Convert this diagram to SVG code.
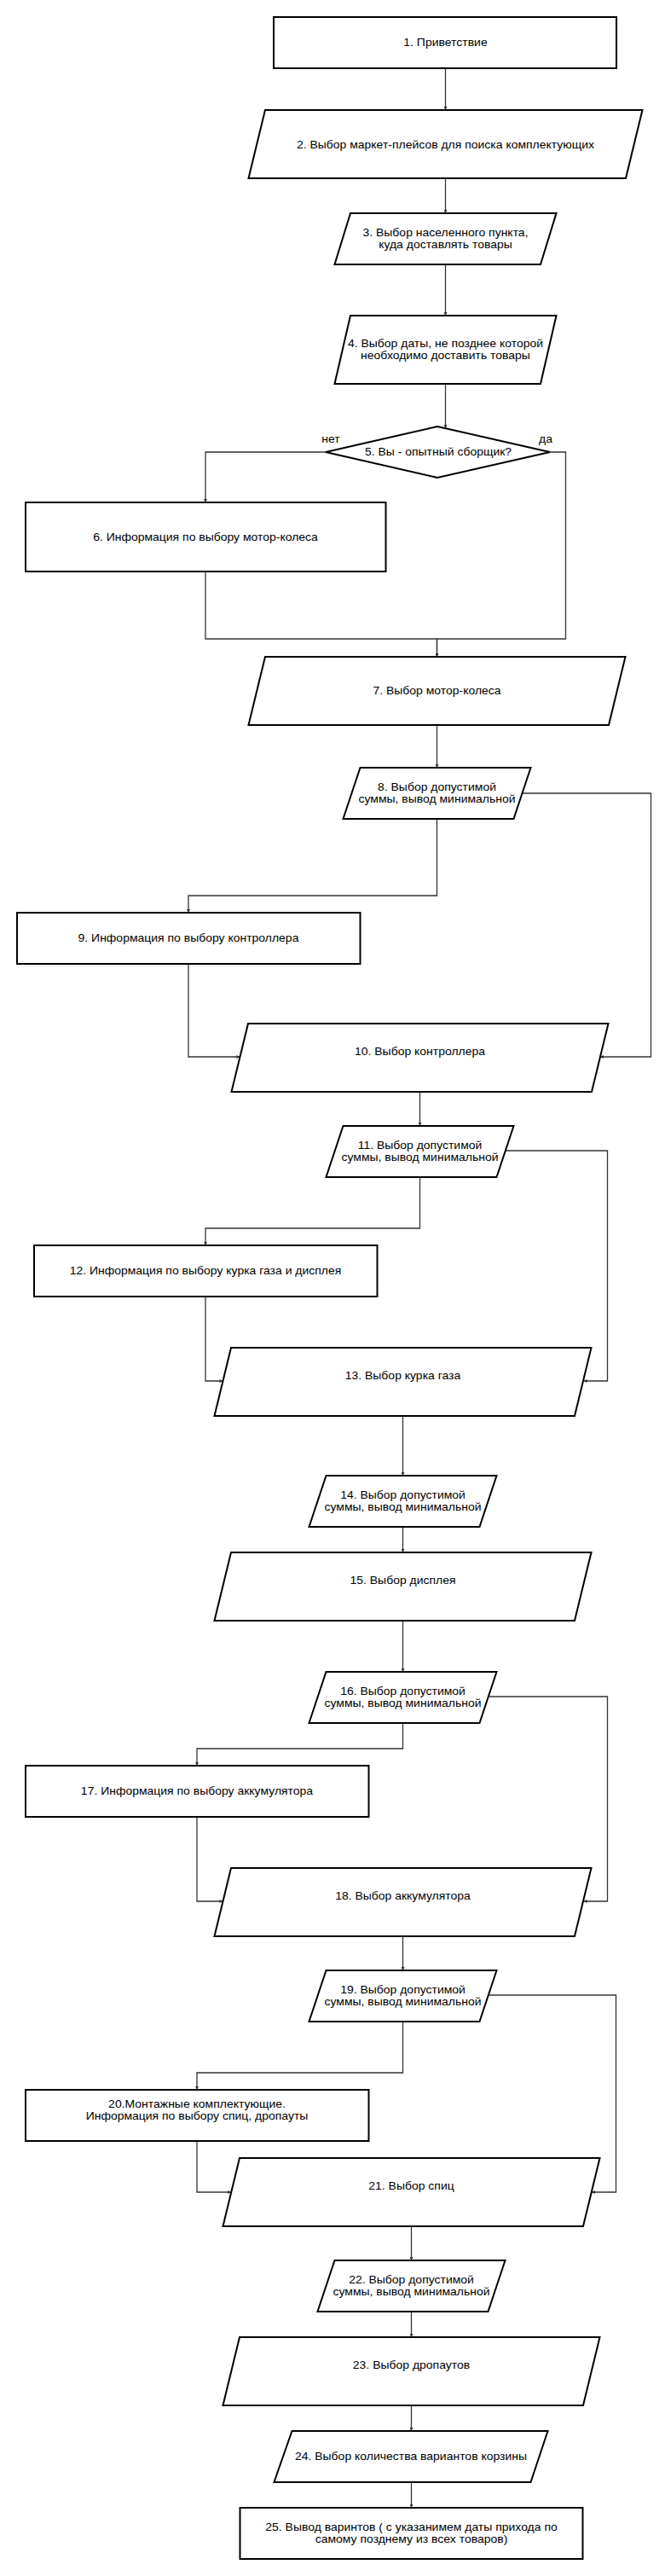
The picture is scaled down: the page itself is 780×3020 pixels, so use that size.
<svg xmlns="http://www.w3.org/2000/svg" width="780" height="3020" viewBox="0 0 780 3020">
<style>
.s{fill:#fff;stroke:#000;stroke-width:2}
.c{fill:none;stroke:#333;stroke-width:1.3}
.t{font-family:"Liberation Sans",Arial,sans-serif;font-size:12px;fill:#000;text-anchor:middle}
</style>
<defs>
<marker id="a" viewBox="0 0 6 6" refX="6" refY="3" markerWidth="5" markerHeight="4" markerUnits="userSpaceOnUse" orient="auto">
<path d="M0,0 L6,3 L0,6 z" fill="#333"/>
</marker>
</defs>
<rect width="780" height="3020" fill="#fff"/>
<g id="connectors">
<path class="c" d="M522.5,80 V129" marker-end="url(#a)"/>
<path class="c" d="M522.5,209 V250" marker-end="url(#a)"/>
<path class="c" d="M522.5,310 V370" marker-end="url(#a)"/>
<path class="c" d="M522.5,450 V502" marker-end="url(#a)"/>
<path class="c" d="M382,530 H241 V589" marker-end="url(#a)"/>
<path class="c" d="M645,530 H663.5 V749 H512.5 V770" marker-end="url(#a)"/>
<path class="c" d="M241,670 V749 H512.5 V770" marker-end="url(#a)"/>
<path class="c" d="M512.5,850 V900" marker-end="url(#a)"/>
<path class="c" d="M612.5,930 H763.5 V1239 H704" marker-end="url(#a)"/>
<path class="c" d="M512.5,960 V1050 H221 V1070" marker-end="url(#a)"/>
<path class="c" d="M221,1130 V1239 H281.5" marker-end="url(#a)"/>
<path class="c" d="M492.5,1280 V1320" marker-end="url(#a)"/>
<path class="c" d="M592.5,1349 H712.5 V1619 H684.5" marker-end="url(#a)"/>
<path class="c" d="M492.5,1380 V1440 H241 V1460" marker-end="url(#a)"/>
<path class="c" d="M241,1520 V1619 H261.5" marker-end="url(#a)"/>
<path class="c" d="M472.5,1660 V1730" marker-end="url(#a)"/>
<path class="c" d="M472.5,1790 V1820" marker-end="url(#a)"/>
<path class="c" d="M472.5,1900 V1960" marker-end="url(#a)"/>
<path class="c" d="M572.5,1989 H712.5 V2229 H684.5" marker-end="url(#a)"/>
<path class="c" d="M472.5,2020 V2050 H231 V2070" marker-end="url(#a)"/>
<path class="c" d="M231,2130 V2229 H261.5" marker-end="url(#a)"/>
<path class="c" d="M472.5,2270 V2310" marker-end="url(#a)"/>
<path class="c" d="M572.5,2339 H722.5 V2570 H694" marker-end="url(#a)"/>
<path class="c" d="M472.5,2370 V2430 H231 V2450" marker-end="url(#a)"/>
<path class="c" d="M231,2510 V2570 H271" marker-end="url(#a)"/>
<path class="c" d="M482.5,2610 V2650" marker-end="url(#a)"/>
<path class="c" d="M482.5,2710 V2740" marker-end="url(#a)"/>
<path class="c" d="M482.5,2820 V2850" marker-end="url(#a)"/>
<path class="c" d="M482.5,2910 V2940" marker-end="url(#a)"/>
</g>
<g id="n1"><rect class="s" x="321" y="20" width="402" height="60"/><text class="t" transform="translate(522.5,54.3) scale(1.165,1)">1. Приветствие</text></g>
<g id="n2"><polygon class="s" points="311,129 753.5,129 734,209 291.5,209"/><text class="t" transform="translate(522.5,174.3) scale(1.165,1)">2. Выбор маркет-плейсов для поиска комплектующих</text></g>
<g id="n3"><polygon class="s" points="411,250 652.5,250 634,310 392.5,310"/><text class="t" transform="translate(522.5,277.3) scale(1.165,1)"><tspan x="0" y="0">3. Выбор населенного пункта,</tspan><tspan x="0" y="14">куда доставлять товары</tspan></text></g>
<g id="n4"><polygon class="s" points="411,370 652.5,370 634,450 392.5,450"/><text class="t" transform="translate(522.5,407.3) scale(1.165,1)"><tspan x="0" y="0">4. Выбор даты, не позднее которой</tspan><tspan x="0" y="14">необходимо доставить товары</tspan></text></g>
<g id="n5"><polygon class="s" points="513,500 645,530 513,560 382,530"/><text class="t" transform="translate(514,534.3) scale(1.165,1)">5. Вы - опытный сборщик?</text><text class="t" transform="translate(388,519.3) scale(1.165,1)">нет</text><text class="t" transform="translate(640,519.3) scale(1.165,1)">да</text></g>
<g id="n6"><rect class="s" x="30" y="589" width="422.5" height="81"/><text class="t" transform="translate(241,634.3) scale(1.165,1)">6. Информация по выбору мотор-колеса</text></g>
<g id="n7"><polygon class="s" points="311,770 733.5,770 714,850 291.5,850"/><text class="t" transform="translate(512.5,814.3) scale(1.165,1)">7. Выбор мотор-колеса</text></g>
<g id="n8"><polygon class="s" points="422.5,900 622.5,900 602.5,960 402.5,960"/><text class="t" transform="translate(512.5,927.3) scale(1.165,1)"><tspan x="0" y="0">8. Выбор допустимой</tspan><tspan x="0" y="14">суммы, вывод минимальной</tspan></text></g>
<g id="n9"><rect class="s" x="20" y="1070" width="402.5" height="60"/><text class="t" transform="translate(221,1104.3) scale(1.165,1)">9. Информация по выбору контроллера</text></g>
<g id="n10"><polygon class="s" points="291,1200 713.5,1200 694,1280 271.5,1280"/><text class="t" transform="translate(492.5,1237.3) scale(1.165,1)">10. Выбор контроллера</text></g>
<g id="n11"><polygon class="s" points="402.5,1320 602.5,1320 582.5,1380 382.5,1380"/><text class="t" transform="translate(492.5,1347.3) scale(1.165,1)"><tspan x="0" y="0">11. Выбор допустимой</tspan><tspan x="0" y="14">суммы, вывод минимальной</tspan></text></g>
<g id="n12"><rect class="s" x="40" y="1460" width="402.5" height="60"/><text class="t" transform="translate(241,1494.3) scale(1.165,1)">12. Информация по выбору курка газа и дисплея</text></g>
<g id="n13"><polygon class="s" points="271,1580 693.5,1580 674,1660 251.5,1660"/><text class="t" transform="translate(472.5,1617.3) scale(1.165,1)">13. Выбор курка газа</text></g>
<g id="n14"><polygon class="s" points="382.5,1730 582.5,1730 562.5,1790 362.5,1790"/><text class="t" transform="translate(472.5,1757.3) scale(1.165,1)"><tspan x="0" y="0">14. Выбор допустимой</tspan><tspan x="0" y="14">суммы, вывод минимальной</tspan></text></g>
<g id="n15"><polygon class="s" points="271,1820 693.5,1820 674,1900 251.5,1900"/><text class="t" transform="translate(472.5,1857.3) scale(1.165,1)">15. Выбор дисплея</text></g>
<g id="n16"><polygon class="s" points="382.5,1960 582.5,1960 562.5,2020 362.5,2020"/><text class="t" transform="translate(472.5,1987.3) scale(1.165,1)"><tspan x="0" y="0">16. Выбор допустимой</tspan><tspan x="0" y="14">суммы, вывод минимальной</tspan></text></g>
<g id="n17"><rect class="s" x="30" y="2070" width="402.5" height="60"/><text class="t" transform="translate(231,2104.3) scale(1.165,1)">17. Информация по выбору аккумулятора</text></g>
<g id="n18"><polygon class="s" points="271,2190 693.5,2190 674,2270 251.5,2270"/><text class="t" transform="translate(472.5,2227.3) scale(1.165,1)">18. Выбор аккумулятора</text></g>
<g id="n19"><polygon class="s" points="382.5,2310 582.5,2310 562.5,2370 362.5,2370"/><text class="t" transform="translate(472.5,2337.3) scale(1.165,1)"><tspan x="0" y="0">19. Выбор допустимой</tspan><tspan x="0" y="14">суммы, вывод минимальной</tspan></text></g>
<g id="n20"><rect class="s" x="30" y="2450" width="402.5" height="60"/><text class="t" transform="translate(231,2471.3) scale(1.165,1)"><tspan x="0" y="0">20.Монтажные комплектующие.</tspan><tspan x="0" y="14">Информация по выбору спиц, дропауты</tspan></text></g>
<g id="n21"><polygon class="s" points="281,2530 703.5,2530 684,2610 261.5,2610"/><text class="t" transform="translate(482.5,2567.3) scale(1.165,1)">21. Выбор спиц</text></g>
<g id="n22"><polygon class="s" points="392.5,2650 592.5,2650 572.5,2710 372.5,2710"/><text class="t" transform="translate(482.5,2677.3) scale(1.165,1)"><tspan x="0" y="0">22. Выбор допустимой</tspan><tspan x="0" y="14">суммы, вывод минимальной</tspan></text></g>
<g id="n23"><polygon class="s" points="281,2740 703.5,2740 684,2820 261.5,2820"/><text class="t" transform="translate(482.5,2777.3) scale(1.165,1)">23. Выбор дропаутов</text></g>
<g id="n24"><polygon class="s" points="342.5,2850 642.5,2850 622.5,2910 321.5,2910"/><text class="t" transform="translate(482,2884.3) scale(1.165,1)">24. Выбор количества вариантов корзины</text></g>
<g id="n25"><rect class="s" x="281.5" y="2940" width="402" height="60"/><text class="t" transform="translate(482.5,2967.3) scale(1.165,1)"><tspan x="0" y="0">25.  Вывод варинтов ( с указанимем даты прихода по</tspan><tspan x="0" y="14">самому позднему из всех товаров)</tspan></text></g>
</svg>
